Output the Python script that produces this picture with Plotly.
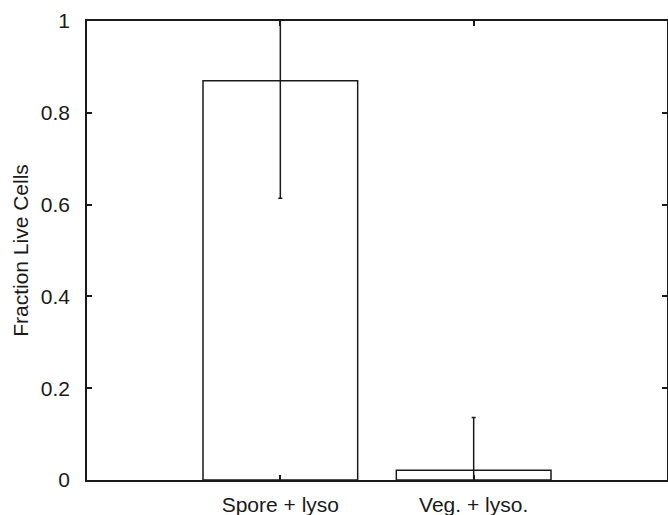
import plotly.graph_objects as go

# Bar chart of live-cell fraction per condition, with symmetric error bars
categories = ["Spore + lyso", "Veg. + lyso."]
positions = [1, 2]
fraction_live = [0.870, 0.021]
error = [0.256, 0.115]
y_ticks = [0, 0.2, 0.4, 0.6, 0.8, 1]
y_tick_text = ["0", "0.2", "0.4", "0.6", "0.8", "1"]

fig = go.Figure(
    go.Bar(
        x=positions,
        y=fraction_live,
        width=0.8,
        marker=dict(color="white", line=dict(color="#1a1a1a", width=1.5)),
        error_y=dict(type="data", array=error, color="#1a1a1a", thickness=1.5, width=2),
    )
)

font = dict(family="Liberation Sans, Arial, sans-serif", size=21, color="#1a1a1a")

fig.update_layout(
    width=668,
    height=515,
    margin=dict(l=87, r=1, t=21, b=35),
    plot_bgcolor="white",
    paper_bgcolor="white",
    showlegend=False,
    font=font,
)

fig.update_xaxes(
    range=[0, 3],
    tickvals=positions,
    ticktext=categories,
    ticks="inside",
    ticklen=5,
    tickwidth=1.5,
    tickcolor="#1a1a1a",
    showline=True,
    linecolor="#1a1a1a",
    linewidth=1.5,
    mirror="ticks",
    showgrid=False,
    zeroline=False,
    ticklabelstandoff=5,
    automargin=False,
)

fig.update_yaxes(
    range=[0, 1],
    tickvals=y_ticks,
    ticktext=y_tick_text,
    ticks="inside",
    ticklen=5,
    tickwidth=1.5,
    tickcolor="#1a1a1a",
    showline=True,
    linecolor="#1a1a1a",
    linewidth=1.5,
    mirror="ticks",
    showgrid=False,
    zeroline=False,
    ticklabelstandoff=11,
    automargin=False,
    title=dict(text="Fraction Live Cells", font=dict(size=21), standoff=6),
)

fig.write_html("out.html")
